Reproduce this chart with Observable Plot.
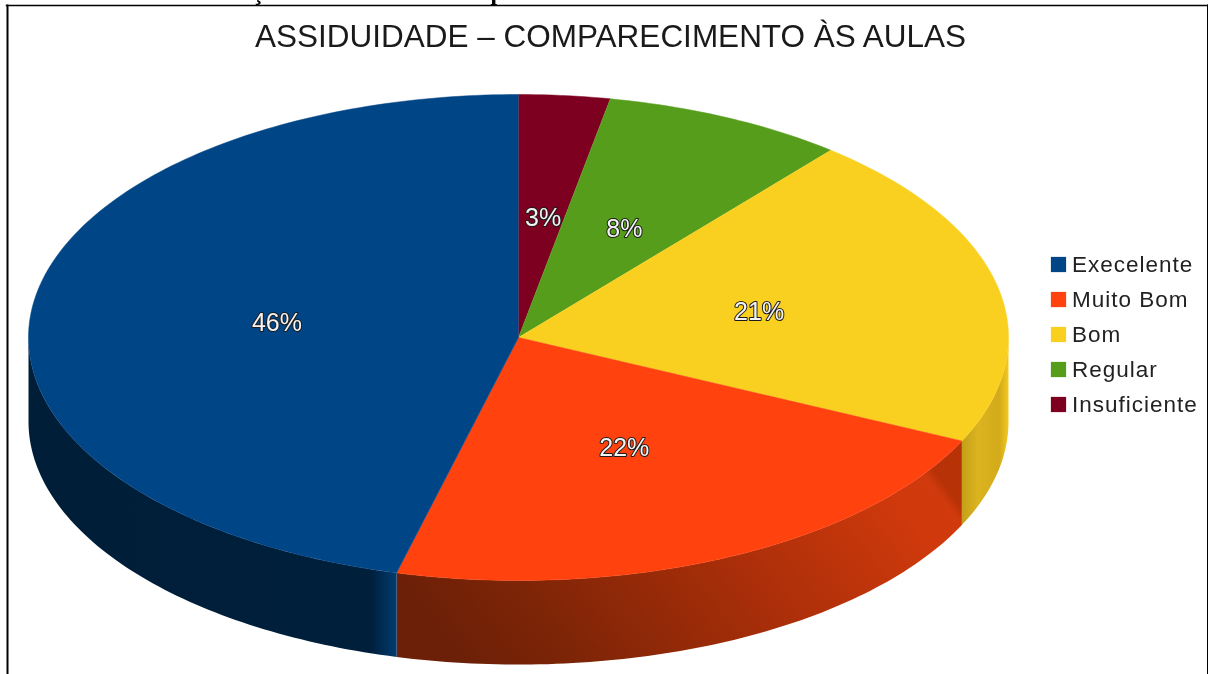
<!DOCTYPE html>
<html lang="pt">
<head>
<meta charset="utf-8">
<script src="https://cdn.jsdelivr.net/npm/d3@7"></script>
<script src="https://cdn.jsdelivr.net/npm/@observablehq/plot@0.6"></script>
<style>
html,body{margin:0;padding:0;background:#fff;overflow:hidden}
svg{display:block;filter:blur(0.4px)}
g[font-size="22.5"]{letter-spacing:1px}
</style>
</head>
<body>
<div id="chart"></div>
<script>
const chartTitle = "ASSIDUIDADE – COMPARECIMENTO ÀS AULAS";
const categories = ["Execelente", "Muito Bom", "Bom", "Regular", "Insuficiente"];
const values = [46, 22, 21, 8, 3];
const colors = ["#004586", "#ff420e", "#fad020", "#579d1c", "#7e0021"];
const clippedGlyphs = ["ç", "p"];

const sideStops = {
  side0: [[0, "#001e38"], [0.93, "#001f3b"], [1, "#003c70"]],
  side1: [[0, "#6c2007"], [0.2, "#7f2507"], [0.55, "#a82e09"], [0.9, "#cf390c"], [0.98, "#d03a0c"], [1, "#b83208"]],
  side2: [[0, "#c4a01a"], [0.35, "#dcb41f"], [0.8, "#d3aa1a"], [1, "#f4c920"]]
};

// Pie runs clockwise from 12 o'clock, in reverse legend order.
const pie = d3.pie().sort(null).value(d => d.value).startAngle(0).endAngle(2 * Math.PI);
const rows = categories.map((name, i) => ({name, value: values[i], color: colors[i], index: i})).reverse();
const slices = pie(rows);

const arc = (a0, a1) => {
  const n = Math.max(2, Math.ceil((a1 - a0) * 180 / Math.PI));
  return d3.range(n + 1).map(k => a0 + (a1 - a0) * k / n);
};
const depth = 0.346; // extrusion, in units of the vertical radius
const px = a => Math.sin(a), py = a => Math.cos(a);

const topShape = s => [{x: 0, y: 0}, ...arc(s.startAngle, s.endAngle).map(a => ({x: px(a), y: py(a)}))];
const sideShape = (a0, a1) => {
  const pts = arc(a0, a1);
  return [...pts.map(a => ({x: px(a), y: py(a)})), ...pts.slice().reverse().map(a => ({x: px(a), y: py(a) - depth}))];
};

const gradients = () => {
  const defs = d3.create("svg:defs");
  Object.entries(sideStops).forEach(([id, stops]) => {
    const g = defs.append("linearGradient").attr("id", id)
      .attr("x1", "0").attr("x2", "1").attr("y1", id === "side1" ? "0.6" : "0").attr("y2", id === "side1" ? "0.3" : "0");
    stops.forEach(([o, c]) => g.append("stop").attr("offset", o).attr("stop-color", c));
  });
  return defs.node();
};

// The three slices whose outer wall faces the viewer.
const visibleSides = slices
  .map(s => ({s, a0: Math.max(s.startAngle, Math.PI / 2), a1: Math.min(s.endAngle, 3 * Math.PI / 2)}))
  .filter(d => d.a1 > d.a0);

const plot = Plot.plot({
  width: 1208,
  height: 674,
  margin: 0,
  style: {fontFamily: "'Liberation Sans', Arial, sans-serif", background: "#fff"},
  x: {axis: null, domain: [-518 / 490, 690 / 490]},
  y: {axis: null, domain: [-337 / 243, 337 / 243]},
  marks: [
    gradients,
    ...visibleSides.map(d => Plot.line(sideShape(d.a0, d.a1), {
      x: "x", y: "y", fill: `url(#side${d.s.data.index})`, stroke: "none"
    })),
    ...slices.map(s => Plot.line(topShape(s), {
      x: "x", y: "y", fill: s.data.color, stroke: s.data.color, strokeWidth: 0.5
    })),
    Plot.text(slices, {
      x: s => 0.5 * px((s.startAngle + s.endAngle) / 2),
      y: s => 0.5 * py((s.startAngle + s.endAngle) / 2),
      dx: 1.5,
      dy: 1,
      text: s => `${s.data.value}%`,
      fontSize: 25,
      fill: "#f4f4f4",
      stroke: "#1c1c1c",
      strokeWidth: 2,
      paintOrder: "stroke"
    }),
    Plot.text([chartTitle], {
      frameAnchor: "top", dx: 6, dy: 24.5, lineAnchor: "top", fontSize: 31.5, fill: "#1a1a1a"
    }),
    ...categories.flatMap((c, i) => [
      Plot.dot([c], {
        frameAnchor: "top-left", dx: 1058, dy: 264 + 35 * i, symbol: "square", r: 8.6,
        fill: colors[i], stroke: "none"
      }),
      Plot.text([c], {
        frameAnchor: "top-left", dx: 1071.5, dy: 264 + 35 * i, textAnchor: "start", lineAnchor: "middle",
        fontSize: 22.5, fill: "#222"
      })
    ]),
    ...clippedGlyphs.map((g, i) => Plot.text([g], {
      frameAnchor: "top-left", dx: [252, 490][i], dy: -1, lineAnchor: "bottom",
      fontSize: 24, fontWeight: "bold", fontFamily: "'Liberation Serif', serif", fill: "#000"
    })),
    Plot.frame({anchor: "top", insetTop: 5, insetLeft: 6, insetRight: 0, stroke: "#000", strokeWidth: 1.5}),
    Plot.frame({anchor: "left", insetLeft: 7, insetTop: 5, stroke: "#000", strokeWidth: 2}),
    Plot.frame({anchor: "right", insetRight: 0.5, insetTop: 5, stroke: "#000", strokeWidth: 2})
  ]
});
document.getElementById("chart").append(plot);
</script>
</body>
</html>
